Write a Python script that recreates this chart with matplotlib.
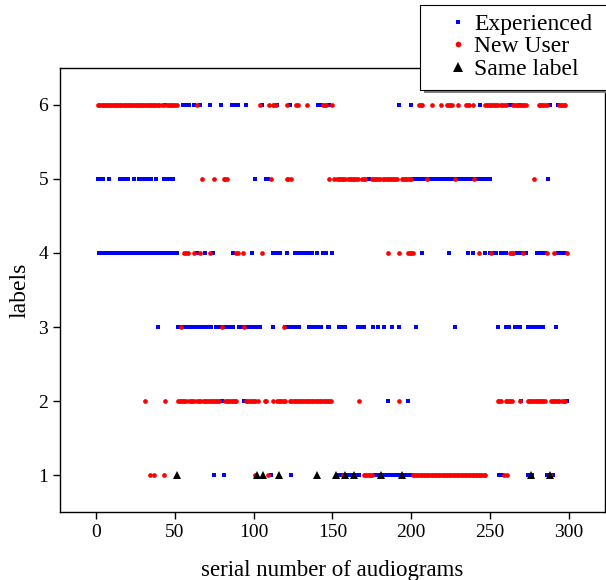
import matplotlib
matplotlib.use("Agg")
import matplotlib.pyplot as plt
from matplotlib.patches import Rectangle

plt.rcParams["font.family"] = ["Liberation Serif", "DejaVu Serif"]

# serial numbers, one list per (series, label)
red_6 = [1, 2, 3, 4, 5, 6, 7, 8, 9, 10, 11, 12, 13, 14, 15, 16, 17, 18, 19, 20,
         21, 22, 23, 24, 25, 26, 27, 28, 29, 30, 31, 32, 33, 34, 35, 36, 37, 38, 39, 40,
         42, 43, 45, 46, 47, 48, 49, 50, 51, 64, 104, 110, 112, 113, 114, 121, 127, 128,
         134, 144, 145, 146, 150, 205, 206, 207, 213, 219, 223, 224, 225, 226, 230, 235,
         236, 237, 239, 247, 248, 249, 250, 251, 252, 253, 254, 255, 257, 258, 259, 260,
         265, 266, 267, 268, 269, 270, 271, 272, 273, 281, 282, 283, 284, 285, 286,
         294, 295, 296, 297, 298]
blue_6 = [44, 55, 56, 57, 58, 59, 62, 66, 72, 79, 86, 89, 90, 95, 105, 115, 123, 141,
          142, 143, 148, 192, 200, 244, 262, 263, 264, 269, 288, 293]

red_5 = [67, 75, 81, 82, 83, 111, 121, 122, 124, 148, 151, 153, 154, 155, 156, 157, 158,
         160, 161, 162, 163, 164, 165, 166, 169, 170, 171, 175, 176, 177, 178, 179, 180,
         182, 183, 184, 185, 186, 187, 188, 189, 190, 191, 194, 195, 196, 197, 198, 199,
         200, 210, 228, 240, 278]
blue_5 = [1, 2, 4, 8, 15, 16, 17, 18, 19, 20, 24, 27, 28, 29, 30, 31, 32, 33, 34, 35, 38,
          43, 45, 46, 47, 48, 49, 101, 108, 109, 173, 201, 202, 203, 204, 205, 206, 207,
          208, 209, 211, 212, 213, 214, 215, 216, 217, 218, 219, 220, 221, 222, 223, 224,
          225, 226, 227, 229, 230, 231, 232, 233, 234, 235, 236, 237, 238, 239, 241, 242,
          243, 244, 245, 246, 247, 248, 249, 250, 287]

red_4 = [56, 57, 58, 62, 66, 72, 89, 90, 93, 105, 185, 192, 198, 199, 200, 201, 243,
         251, 263, 264, 265, 271, 286, 291, 299]
blue_4 = [2, 3, 4, 6, 7, 8, 9, 10, 11, 12, 13, 14, 15, 16, 17, 18, 19, 20, 21, 22, 23,
          24, 25, 26, 27, 28, 29, 30, 31, 32, 33, 34, 35, 36, 37, 38, 39, 40, 41, 42, 43,
          44, 45, 46, 47, 48, 49, 50, 51, 64, 69, 74, 87, 99, 112, 113, 114, 117, 121,
          126, 127, 128, 129, 130, 131, 132, 133, 134, 135, 137, 140, 144, 145, 146, 150,
          207, 224, 236, 239, 247, 250, 251, 252, 253, 254, 257, 258, 259, 260, 267, 269,
          270, 271, 272, 273, 280, 281, 282, 283, 284, 285, 293, 294, 295, 296, 297, 298]

red_3 = [54, 80, 94, 119]
blue_3 = [39, 52, 53, 55, 56, 58, 59, 60, 61, 62, 63, 64, 65, 66, 67, 68, 69, 70, 71,
          73, 76, 77, 78, 79, 81, 82, 83, 84, 85, 86, 87, 91, 92, 93, 95, 96, 97, 98, 99,
          100, 101, 102, 103, 104, 112, 120, 121, 122, 123, 124, 125, 126, 127, 128, 129,
          135, 136, 137, 138, 139, 140, 142, 143, 147, 148, 154, 155, 156, 157, 158, 166,
          167, 168, 169, 170, 176, 179, 183, 188, 192, 203, 228, 255, 260, 261, 262, 266,
          267, 268, 269, 274, 275, 276, 277, 278, 279, 280, 281, 284, 292]

red_2 = [31, 44, 52, 53, 54, 55, 56, 57, 59, 60, 61, 62, 64, 65, 66, 68, 69, 70, 71, 72,
         73, 74, 75, 76, 77, 78, 82, 83, 84, 85, 86, 87, 88, 89, 95, 96, 97, 98, 99, 100,
         101, 103, 107, 108, 112, 115, 116, 117, 118, 119, 120, 123, 124, 125, 126, 127,
         128, 129, 130, 131, 132, 133, 134, 135, 136, 137, 138, 139, 140, 141, 142, 143,
         144, 145, 146, 147, 148, 149, 167, 192, 255, 256, 257, 260, 261, 262, 263, 264,
         269, 274, 275, 276, 277, 278, 279, 280, 281, 282, 283, 284, 285, 289, 290, 291,
         292, 293, 294, 296, 297, 298]
blue_2 = [80, 94, 185, 198, 270, 299]

red_1 = [34, 37, 43, 101, 109, 157, 170, 171, 172, 173, 174, 175, 201, 202, 203, 204,
         205, 206, 207, 208, 209, 210, 211, 212, 213, 214, 215, 216, 217, 218, 219, 220,
         221, 222, 223, 224, 225, 226, 227, 228, 229, 230, 231, 232, 233, 234, 235, 236,
         237, 238, 239, 240, 241, 242, 243, 244, 245, 246, 247, 259, 261, 288]
blue_1 = [75, 81, 111, 124, 154, 155, 156, 158, 159, 160, 161, 162, 163, 165, 166, 167,
          177, 178, 179, 180, 182, 183, 184, 185, 186, 187, 188, 189, 190, 192, 193, 195,
          196, 197, 198, 199, 200, 256, 257, 258, 274, 275, 277, 286, 287, 289, 290]
same_x = [51, 102, 106, 116, 140, 152, 158, 164, 181, 194, 276, 288]

blue_sets = [(blue_1, 1), (blue_2, 2), (blue_3, 3), (blue_4, 4), (blue_5, 5), (blue_6, 6)]
red_sets = [(red_1, 1), (red_2, 2), (red_3, 3), (red_4, 4), (red_5, 5), (red_6, 6)]

C_BLUE = "#0000ff"
C_RED = "#ff0000"
W, H = 606, 580

fig = plt.figure(figsize=(W / 100, H / 100), dpi=100)
ax = fig.add_axes([0.099, 0.117, 0.899, 0.766])

for i, (xs, lab) in enumerate(blue_sets):
    ax.plot(xs, [lab] * len(xs), linestyle="none", marker="s", markersize=2.9,
            color=C_BLUE, markeredgewidth=0, label="Experienced" if i == 0 else None, zorder=2)
for i, (xs, lab) in enumerate(red_sets):
    ax.plot(xs, [lab] * len(xs), linestyle="none", marker="o", markersize=3.4,
            color=C_RED, markeredgewidth=0, label="New User" if i == 0 else None, zorder=3)
ax.plot(same_x, [1] * len(same_x), linestyle="none", marker="^", markersize=6,
        color="black", markeredgewidth=0, label="Same label", zorder=4)

ax.set_xlim(-23, 323)
ax.set_ylim(0.5, 6.5)
ax.set_xticks([0, 50, 100, 150, 200, 250, 300])
ax.set_yticks([1, 2, 3, 4, 5, 6])
ax.tick_params(labelsize=14, direction="out", length=5, width=1)
ax.set_xlabel("serial number of audiograms", fontsize=16.5, labelpad=14)
ax.set_ylabel("labels", fontsize=17, labelpad=6)
for s in ax.spines.values():
    s.set_linewidth(1)

# legend box runs off the right edge of the figure, drawn by hand with its shadow
box_l, box_t, box_b = 420, 5, 90
fig.patches.append(Rectangle(((box_l + 4) / W, 1 - (box_b + 3) / H), (W + 10 - box_l) / W,
                             (box_b - box_t) / H, transform=fig.transFigure,
                             facecolor="#808080", edgecolor="none", zorder=1))
fig.patches.append(Rectangle((box_l / W, 1 - box_b / H), (W + 10 - box_l) / W,
                             (box_b - box_t) / H, transform=fig.transFigure,
                             facecolor="white", edgecolor="black", linewidth=0.8, zorder=1.1))

leg = fig.legend(loc="upper left", bbox_to_anchor=(box_l / W, 1 - box_t / H), fontsize=17,
                 frameon=False, borderpad=0.35, handlelength=2.52, handletextpad=-0.58,
                 labelspacing=0.05, markerscale=1.2, borderaxespad=0)

fig.savefig("out.png", dpi=100)
